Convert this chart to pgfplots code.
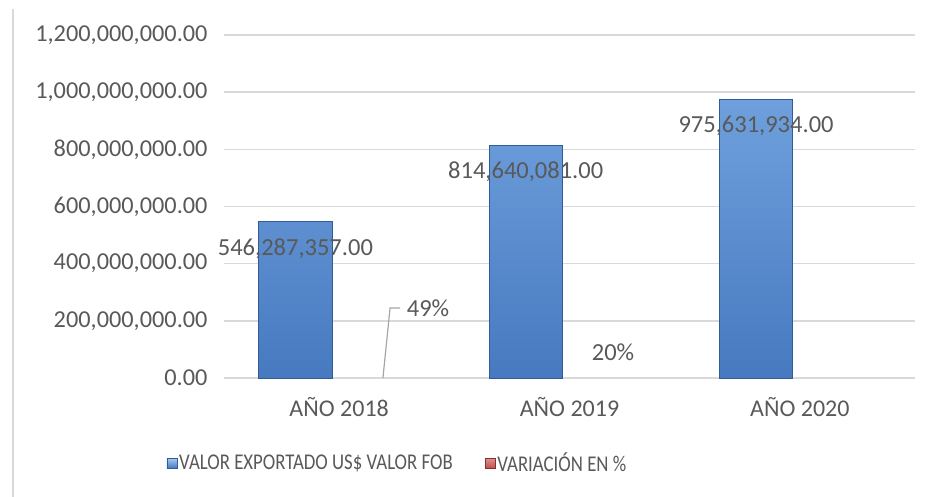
\documentclass[border=0pt]{standalone}
\usepackage{pgfplots}
\pgfplotsset{compat=1.18}
\usepackage{pgfplotstable}
\usepackage{fontspec}
\setmainfont{Carlito}
\definecolor{txt}{HTML}{595959}
\definecolor{gridc}{HTML}{D9D9D9}
\definecolor{barTop}{HTML}{6FA0DD}
\definecolor{barBot}{HTML}{4779C0}
\definecolor{barEdge}{HTML}{2F5B96}
\definecolor{bevelA}{HTML}{AACBF2}
\definecolor{redA}{HTML}{C0504D}
\definecolor{redEdge}{HTML}{8C2F2C}

\pgfplotstableread{
x y lab
0 546287357 546,287,357.00
1 814640081 814,640,081.00
2 975631934 975,631,934.00
}\valores
\pgfplotstableread{
x y
0 0.49
1 0.20
2 0
}\variacion

\begin{document}
\begin{tikzpicture}
\useasboundingbox (0,0) rectangle (940pt,497pt);
\draw[gridc, line width=1.8pt] (13pt,488pt) -- (13pt,0pt);
\begin{axis}[
  at={(224pt,119pt)}, anchor=south west,
  scale only axis, width=691pt, height=343pt,
  xmin=-0.5, xmax=2.5, ymin=0, ymax=1.2e9,
  xtick={0,1,2},
  xticklabels={AÑO 2018, AÑO 2019, AÑO 2020},
  ytick={0,200000000,400000000,600000000,800000000,1000000000,1200000000},
  yticklabels={0.00,{200,000,000.00},{400,000,000.00},{600,000,000.00},{800,000,000.00},{1,000,000,000.00},{1,200,000,000.00}},
  scaled y ticks=false,
  major tick length=0pt,
  axis line style={draw=none},
  ymajorgrids, grid style={gridc, line width=1.6pt},
  tick label style={text=txt},
  yticklabel style={font=\fontsize{24.3}{28}\selectfont, xshift=-13pt},
  xticklabel style={font=\fontsize{24}{28}\selectfont, yshift=-16pt},
  clip=false,
  legend columns=2,
  legend style={at={(-0.083,-0.248)}, anchor=west, draw=none, fill=none,
    font=\fontsize{22.5}{26}\selectfont, text=txt,
    /tikz/every even column/.append style={column sep=30pt},
    inner sep=0pt, outer sep=0pt},
]
\addplot[ybar, bar width=0.317, bar shift=-0.19, draw=barEdge, line width=0.8pt,
  top color=barTop, bottom color=barBot,
  legend image code/.code={\draw[draw=barEdge, line width=0.6pt, top color=bevelA, bottom color=barBot] (0pt,-5pt) rectangle (10pt,5pt);},
  nodes near coords, point meta=explicit symbolic,
  every node near coord/.append style={anchor=center, yshift=-27pt, xshift=-43.8pt, text=txt,
    font=\fontsize{24.5}{28}\selectfont}]
  table[x=x, y=y, meta=lab] {\valores};
\addlegendentry{\scalebox{0.835}[1]{VALOR EXPORTADO US\$ VALOR FOB}}
\addplot[ybar, bar width=0.317, bar shift=0.19, draw=none, fill=none,
  legend image code/.code={\draw[draw=redEdge, line width=0.6pt, top color=redA!60!white, bottom color=redA] (0pt,-5pt) rectangle (10pt,5pt);}]
  table[x=x, y=y] {\variacion};
\addlegendentry{\scalebox{0.835}[1]{VARIACIÓN EN \%}}
\draw[gray!70, line width=1.2pt] (axis cs:0.19,0) -- (axis cs:0.221,245000000) -- (axis cs:0.265,245000000);
\node[text=txt, font=\fontsize{24.5}{28}\selectfont] at (axis cs:0.386,245000000) {49\%};
\node[text=txt, font=\fontsize{24.5}{28}\selectfont] at (axis cs:1.189,91000000) {20\%};
\end{axis}
\end{tikzpicture}
\end{document}
